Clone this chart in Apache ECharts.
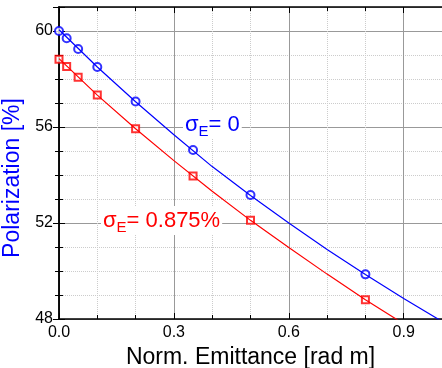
<!DOCTYPE html>
<html lang="en">
<head>
    <meta charset="UTF-8">
    <title>Polarization vs emittance</title>
    <script src="https://cdn.jsdelivr.net/npm/echarts@6.0.0/dist/echarts.min.js"></script>
    <style>
        body { margin: 0; background: #fff; }
    </style>
</head>
<body>
    <div id="main" style="width: 442px;height:368px;"></div>
    <script type="text/javascript">
        // measured points
        let emittance = [0, 0.02, 0.05, 0.1, 0.2, 0.35, 0.5, 0.8];
        let polZero = [60.0, 59.7, 59.25, 58.5, 57.06, 55.04, 53.17, 49.86];
        let polSpread = [58.82, 58.52, 58.07, 57.33, 55.93, 53.96, 52.11, 48.8];

        // fitted curves
        let fitX = [0, 0.1, 0.2, 0.3, 0.4, 0.5, 0.6, 0.7, 0.8, 0.9, 1.0];
        let fitZero = [60.05, 58.5, 57.05, 55.68, 54.35, 53.15, 52.0, 50.9, 49.85, 48.85, 47.9];
        let fitSpread = [58.85, 57.33, 55.93, 54.6, 53.32, 52.11, 50.98, 49.87, 48.8, 47.8, 46.85];

        const pairs = (xs, ys) => xs.map((x, i) => [x, ys[i]]);

        const tickFont = { color: '#000', fontSize: 16, fontFamily: 'Liberation Sans' };
        const gridLine = { show: true, lineStyle: { color: '#999', width: 1 } };
        const minorGrid = { show: true, lineStyle: { color: '#ccc', type: 'dotted', width: 1 } };

        let myChart = echarts.init(document.getElementById('main'));
        let options = {
            animation: false,
            grid: { left: 59, top: 7, right: 0, bottom: 49, outerBoundsMode: 'none', containLabel: false },
            xAxis: [{
                type: 'value', min: 0, max: 1.0, interval: 0.3,
                axisLine: { show: true, onZero: false, lineStyle: { color: '#000', width: 1.5 } },
                axisTick: { show: true, inside: true, length: 6, lineStyle: { color: '#000' } },
                minorTick: { show: true, splitNumber: 3, length: 4, lineStyle: { color: '#000' } },
                axisLabel: { ...tickFont, margin: 6, showMaxLabel: false, formatter: v => v.toFixed(1) },
                splitLine: gridLine,
                minorSplitLine: minorGrid,
                name: 'Norm. Emittance [rad m]', nameLocation: 'middle', nameGap: 24,
                nameTextStyle: { color: '#000', fontSize: 23, fontFamily: 'Liberation Sans' }
            }, {
                type: 'value', position: 'top', min: 0, max: 1.0, interval: 0.3,
                axisLine: { show: true, lineStyle: { color: '#000', width: 1.5 } },
                axisTick: { show: true, inside: true, length: 6, lineStyle: { color: '#000' } },
                minorTick: { show: true, splitNumber: 3, length: 4, lineStyle: { color: '#000' } },
                axisLabel: { show: false }, splitLine: { show: false }
            }],
            yAxis: [{
                type: 'value', min: 48, max: 61, interval: 4,
                axisLine: { show: true, onZero: false, lineStyle: { color: '#000', width: 1.5 } },
                axisTick: { show: true, inside: true, length: 6, lineStyle: { color: '#000' } },
                minorTick: { show: true, splitNumber: 4, length: 4, lineStyle: { color: '#000' } },
                axisLabel: { ...tickFont, margin: 6, showMaxLabel: false },
                splitLine: gridLine,
                minorSplitLine: minorGrid,
                name: 'Polarization [%]', nameLocation: 'middle', nameGap: 27,
                nameTextStyle: { color: '#0000ff', fontSize: 23, fontFamily: 'Liberation Sans', padding: [0, 30, 0, 0] }
            }, {
                type: 'value', position: 'right', min: 48, max: 61, interval: 4,
                axisLine: { show: true, lineStyle: { color: '#000', width: 1.5 } },
                axisTick: { show: true, inside: true, length: 6, lineStyle: { color: '#000' } },
                minorTick: { show: true, splitNumber: 4, length: 4, lineStyle: { color: '#000' } },
                axisLabel: { show: false }, splitLine: { show: false }
            }],
            series: [{
                name: 'fit zero', type: 'line', showSymbol: false,
                data: pairs(fitX, fitZero), lineStyle: { color: '#0000ff', width: 1.2 }
            }, {
                name: 'fit spread', type: 'line', showSymbol: false,
                data: pairs(fitX, fitSpread), lineStyle: { color: '#ff0000', width: 1.2 }
            }, {
                name: 'sigma 0', type: 'scatter', symbol: 'emptyCircle', symbolSize: 8,
                data: pairs(emittance, polZero),
                itemStyle: { color: '#0000ff', borderColor: '#0000ff', borderWidth: 1.3 }
            }, {
                name: 'sigma 0.875', type: 'scatter', symbol: 'emptyRect', symbolSize: 7,
                data: pairs(emittance, polSpread),
                itemStyle: { color: '#ff0000', borderColor: '#ff0000', borderWidth: 1.3 }
            }],
            graphic: [{
                type: 'text', left: 183, top: 110, z: 100,
                style: {
                    rich: {
                        s: { fontSize: 22, fontFamily: 'Liberation Sans', fill: '#0000ff' },
                        e: { fontSize: 15, fontFamily: 'Liberation Sans', fill: '#0000ff', padding: [14, 0, 0, 0] }
                    },
                    text: '{s|σ}{e|E}{s|= 0}',
                    backgroundColor: '#fff', padding: [0, 2, 0, 2]
                }
            }, {
                type: 'text', left: 101, top: 206, z: 100,
                style: {
                    rich: {
                        s: { fontSize: 22, fontFamily: 'Liberation Sans', fill: '#ff0000' },
                        e: { fontSize: 15, fontFamily: 'Liberation Sans', fill: '#ff0000', padding: [14, 0, 0, 0] }
                    },
                    text: '{s|σ}{e|E}{s|= 0.875%}',
                    backgroundColor: '#fff', padding: [0, 2, 0, 2]
                }
            }]
        };
        myChart.setOption(options);
    </script>
</body>
</html>
